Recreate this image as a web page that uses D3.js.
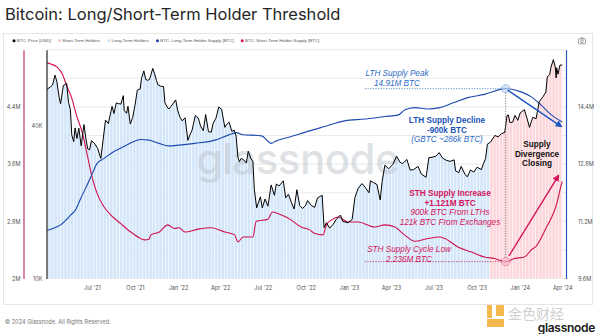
<!DOCTYPE html>
<html><head><meta charset="utf-8">
<script src="https://cdn.jsdelivr.net/npm/d3@7"></script>
<style>
html,body{margin:0;padding:0;background:#fff;}
svg{display:block;font-family:Inter,"Liberation Sans",Arial,sans-serif;}
</style></head>
<body><svg id="c" width="600" height="334"></svg>
<script>
// ---------------- DATA ----------------
const priceDates = ["2021-03-27","2021-04-03","2021-04-08","2021-04-13","2021-04-17","2021-04-22","2021-04-25","2021-05-01","2021-05-08","2021-05-12","2021-05-16","2021-05-19","2021-05-23","2021-05-26","2021-05-30","2021-06-03","2021-06-08","2021-06-14","2021-06-18","2021-06-22","2021-06-26","2021-06-30","2021-07-06","2021-07-13","2021-07-20","2021-07-25","2021-07-30","2021-08-05","2021-08-13","2021-08-17","2021-08-22","2021-08-27","2021-09-01","2021-09-06","2021-09-08","2021-09-13","2021-09-16","2021-09-21","2021-09-26","2021-10-01","2021-10-06","2021-10-12","2021-10-15","2021-10-20","2021-10-24","2021-10-28","2021-11-01","2021-11-08","2021-11-12","2021-11-16","2021-11-19","2021-11-24","2021-11-28","2021-12-01","2021-12-04","2021-12-10","2021-12-13","2021-12-16","2021-12-21","2021-12-27","2021-12-31","2022-01-05","2022-01-10","2022-01-16","2022-01-22","2022-01-26","2022-01-31","2022-02-07","2022-02-10","2022-02-14","2022-02-18","2022-02-24","2022-03-01","2022-03-07","2022-03-13","2022-03-17","2022-03-23","2022-03-29","2022-04-04","2022-04-11","2022-04-15","2022-04-20","2022-04-26","2022-05-01","2022-05-05","2022-05-09","2022-05-12","2022-05-16","2022-05-21","2022-05-27","2022-05-31","2022-06-05","2022-06-10","2022-06-13","2022-06-18","2022-06-22","2022-06-26","2022-06-30","2022-07-06","2022-07-12","2022-07-19","2022-07-26","2022-07-30","2022-08-05","2022-08-14","2022-08-19","2022-08-25","2022-08-31","2022-09-06","2022-09-12","2022-09-18","2022-09-24","2022-09-30","2022-10-05","2022-10-13","2022-10-20","2022-10-26","2022-11-05","2022-11-09","2022-11-14","2022-11-21","2022-11-29","2022-12-05","2022-12-14","2022-12-19","2022-12-30","2023-01-08","2023-01-14","2023-01-21","2023-01-29","2023-02-05","2023-02-13","2023-02-16","2023-02-23","2023-03-02","2023-03-09","2023-03-13","2023-03-19","2023-03-27","2023-04-05","2023-04-13","2023-04-20","2023-04-26","2023-05-05","2023-05-12","2023-05-19","2023-05-29","2023-06-05","2023-06-15","2023-06-21","2023-06-28","2023-07-06","2023-07-13","2023-07-20","2023-07-28","2023-08-05","2023-08-14","2023-08-17","2023-08-24","2023-08-29","2023-09-06","2023-09-11","2023-09-18","2023-09-25","2023-10-02","2023-10-11","2023-10-16","2023-10-20","2023-10-24","2023-10-31","2023-11-09","2023-11-16","2023-11-23","2023-11-30","2023-12-05","2023-12-08","2023-12-11","2023-12-17","2023-12-22","2023-12-28","2024-01-02","2024-01-11","2024-01-17","2024-01-22","2024-01-29","2024-02-05","2024-02-12","2024-02-20","2024-02-26","2024-02-29","2024-03-05","2024-03-08","2024-03-13","2024-03-17","2024-03-19","2024-03-20","2024-03-23","2024-03-27","2024-04-01"];
const priceUSD = [55800,57000,58100,63500,60000,51800,49000,57800,58800,49600,46400,36800,34700,39300,35700,39200,33400,40500,35800,32500,32200,35000,34200,32700,29800,35400,42200,40900,47800,44800,49300,49000,48800,52700,46100,44900,47800,40700,43200,48200,55400,56000,61700,66000,61000,60600,61000,67500,64200,60400,58100,57500,57300,57300,49400,47100,46700,47600,48900,50700,46300,43400,41900,43100,35100,36800,38500,44000,43600,42600,40000,38300,44400,38000,37800,41000,42900,47500,46600,39500,40500,41400,38100,38500,36500,30100,28900,29800,29400,28600,31800,29900,29000,22500,19000,20000,21000,19000,20600,19300,23400,21300,23600,23200,24300,20800,21500,20000,18800,22400,19400,18900,19400,20300,19400,19100,20800,21300,15900,16600,15800,16400,17100,17800,16800,16600,17100,20900,22700,23700,22900,21800,24300,23900,23500,20400,24100,28000,27100,28200,30400,28800,28400,29500,26800,26900,27700,25800,25100,30000,30100,30400,31400,29900,29300,29000,29400,26600,26200,27700,25800,25200,26800,26300,27500,26900,28500,29700,33900,34600,36700,36200,37300,37700,44000,44200,41300,41400,44000,42100,45000,46400,42700,39500,43300,42700,50000,52200,54500,62400,63800,68300,73100,68400,61900,67900,64000,69500,69700];

const lthDates = ["2021-03-27","2021-04-04","2021-04-25","2021-05-17","2021-05-27","2021-06-07","2021-06-21","2021-07-02","2021-07-12","2021-07-27","2021-08-17","2021-09-07","2021-09-29","2021-10-13","2021-10-31","2021-11-21","2021-12-12","2022-01-03","2022-02-06","2022-03-21","2022-04-18","2022-05-06","2022-05-17","2022-06-28","2022-07-20","2022-07-27","2022-08-31","2022-10-09","2022-11-10","2022-12-23","2023-02-04","2023-03-19","2023-04-16","2023-04-30","2023-05-22","2023-06-19","2023-07-14","2023-08-15","2023-09-12","2023-10-18","2023-12-02","2024-01-04","2024-01-26","2024-02-16","2024-03-05","2024-03-19","2024-04-01"];
const lthSupply = [10.94,10.98,11.10,11.38,11.52,11.84,12.22,12.54,12.82,12.96,13.15,13.29,13.43,13.49,13.47,13.38,13.31,13.33,13.38,13.47,13.61,13.68,13.63,13.59,13.38,13.43,13.57,13.73,13.85,14.01,14.06,14.13,14.17,14.31,14.38,14.34,14.38,14.53,14.66,14.75,14.91,14.82,14.68,14.45,14.22,14.08,13.98];

const sthDates = ["2021-03-27","2021-04-04","2021-04-17","2021-04-28","2021-05-09","2021-05-19","2021-05-30","2021-06-10","2021-06-21","2021-07-02","2021-07-12","2021-07-27","2021-08-10","2021-08-31","2021-09-22","2021-10-10","2021-10-21","2021-10-31","2021-11-04","2021-11-22","2021-12-10","2021-12-24","2022-01-03","2022-01-16","2022-02-13","2022-03-13","2022-04-11","2022-05-02","2022-05-09","2022-05-20","2022-06-10","2022-06-17","2022-07-12","2022-07-22","2022-08-09","2022-08-30","2022-09-21","2022-10-09","2022-10-20","2022-11-07","2022-11-14","2022-11-25","2022-12-09","2022-12-30","2023-01-21","2023-02-25","2023-03-19","2023-04-09","2023-04-30","2023-05-22","2023-06-19","2023-07-14","2023-07-25","2023-08-22","2023-09-20","2023-10-18","2023-11-08","2023-12-02","2023-12-21","2024-01-11","2024-01-26","2024-02-05","2024-02-26","2024-03-08","2024-03-19","2024-03-28","2024-04-01"];
const sthSupply = [5.02,5.00,4.96,4.87,4.68,4.52,4.26,4.05,3.73,3.40,3.19,3.00,2.89,2.77,2.65,2.57,2.54,2.55,2.61,2.65,2.75,2.70,2.71,2.65,2.69,2.71,2.65,2.61,2.51,2.58,2.58,2.80,2.83,2.93,2.89,2.82,2.72,2.68,2.63,2.61,2.75,2.82,2.86,2.79,2.79,2.72,2.75,2.72,2.61,2.52,2.56,2.58,2.56,2.44,2.37,2.30,2.28,2.236,2.28,2.30,2.40,2.45,2.70,2.84,3.02,3.26,3.357];

const regimeSplit = "2023-10-28"; // LTH-dominant (blue) before, STH-dominant (pink) after

const xTickDates = ["2021-07-01","2021-10-01","2022-01-01","2022-04-01","2022-07-01","2022-10-01","2023-01-01","2023-04-01","2023-07-01","2023-10-01","2024-01-01","2024-04-01"];
const xTickLabels = ["Jul '21","Oct '21","Jan '22","Apr '22","Jul '22","Oct '22","Jan '23","Apr '23","Jul '23","Oct '23","Jan '24","Apr '24"];
const sthTicks = [2, 2.8, 3.6, 4.4];
const sthTickLabels = ["2M","2.8M","3.6M","4.4M"];
const priceTicks = [10000, 40000];
const priceTickLabels = ["10K","40K"];
const lthTicks = [9.6, 11.2, 12.8, 14.4];
const lthTickLabels = ["9.6M","11.2M","12.8M","14.4M"];
const gridValues = [2,2.4,2.8,3.2,3.6,4.0,4.4,4.8,5.2];

const legendLabels = ["BTC: Price [USD]","Short-Term Holders","Long-Term Holders","BTC: Long-Term Holder Supply [BTC]","BTC: Short-Term Holder Supply [BTC]"];
const legendColors = ["#000000","#f7c6cb","#c9e1f7","#1c3fa8","#d0104c"];

// annotation anchors (values)
const lthPeak = {date:"2023-12-02", value:14.91};
const sthLow  = {date:"2023-12-02", value:2.236};
const lthArrowEnd = {date:"2024-03-30", value:13.85};
const sthArrowStart = {date:"2023-12-05", value:2.29};
const sthArrowEnd = {date:"2024-03-24", value:3.44};

// ---------------- CHART ----------------
const P = d3.timeParse("%Y-%m-%d");
const svg = d3.select("#c");
const L = 47, R = 566, T = 49.7, B = 278.5;

const x = d3.scaleTime().domain([P("2021-03-27"), P("2024-04-09")]).range([L, R]);
const yPrice = d3.scaleLog().domain([10000, 80000]).range([B, T]);
const ySth = d3.scaleLinear().domain([2, 5.2]).range([B, T]);
const yLth = d3.scaleLinear().domain([9.6, 16.0]).range([B, T]);

const price = priceDates.map((d,i)=>({d:P(d), v:priceUSD[i]}));
const lth = lthDates.map((d,i)=>({d:P(d), v:lthSupply[i]}));
const sth = sthDates.map((d,i)=>({d:P(d), v:sthSupply[i]}));

const defs = svg.append("defs");
const wk = x(P("2021-04-10")) - x(P("2021-04-03"));
const pat = defs.append("pattern").attr("id","stripes").attr("patternUnits","userSpaceOnUse")
  .attr("x", L).attr("y",0).attr("width", wk).attr("height", 10);
pat.append("rect").attr("x",0).attr("y",0).attr("width",0.9).attr("height",10).attr("fill","#fff").attr("opacity",0.75);

const split = x(P(regimeSplit));
defs.append("clipPath").attr("id","clipL").append("rect").attr("x",L).attr("y",T).attr("width",split-L).attr("height",B-T);
defs.append("clipPath").attr("id","clipR").append("rect").attr("x",split).attr("y",T).attr("width",R-split).attr("height",B-T);
defs.append("clipPath").attr("id","plot").append("rect").attr("x",L).attr("y",T-5).attr("width",R-L).attr("height",B-T+5);

// outer frame
svg.append("rect").attr("x",3.5).attr("y",33.5).attr("width",589).attr("height",271)
  .attr("fill","none").attr("stroke","#e6e6e6");

// title
svg.append("text").attr("x",5).attr("y",20).attr("font-size",16.5).attr("fill","#262626")
  .text("Bitcoin: Long/Short-Term Holder Threshold");

// legend
let lx = 14;
const lg = svg.append("g").attr("font-size",4.4).attr("fill","#555").attr("font-family","'Liberation Sans',Arial,sans-serif");
legendLabels.forEach((t,i)=>{
  lg.append("circle").attr("cx",lx).attr("cy",40.7).attr("r",1.5).attr("fill",legendColors[i]);
  const tx = lg.append("text").attr("x",lx+2.8).attr("y",42.3).text(t);
  lx += 2.8 + tx.node().getComputedTextLength() + 8.5;
});
// camera icon
const cam = svg.append("g").attr("transform","translate(582,41)").attr("fill","none").attr("stroke","#777").attr("stroke-width",0.7);
cam.append("rect").attr("x",-3.5).attr("y",-2.2).attr("width",7).attr("height",5).attr("rx",0.8);
cam.append("circle").attr("cx",0).attr("cy",0.3).attr("r",1.4);
cam.append("path").attr("d","M-1.5,-2.2 L-1,-3.2 L1,-3.2 L1.5,-2.2");

// gridlines
svg.append("g").selectAll("line").data(gridValues).join("line")
  .attr("x1",L).attr("x2",R).attr("y1",d=>ySth(d)).attr("y2",d=>ySth(d))
  .attr("stroke","#e4e4e4").attr("stroke-width",0.8);

// holder regime fills (area under price)
const area = d3.area().x(d=>x(d.d)).y0(B).y1(d=>yPrice(d.v)).curve(d3.curveLinear);
const fills = svg.append("g");
fills.append("path").datum(price).attr("d",area).attr("fill","#cfe4f9").attr("fill-opacity",0.92).attr("clip-path","url(#clipL)");
fills.append("path").datum(price).attr("d",area).attr("fill","#fcd3d7").attr("fill-opacity",0.92).attr("clip-path","url(#clipR)");
fills.append("path").datum(price).attr("d",area).attr("fill","url(#stripes)");

// watermark
svg.append("text").attr("x",298).attr("y",174).attr("text-anchor","middle")
  .attr("font-size",42).attr("font-weight",500).attr("fill","#b4bbc3").attr("opacity",0.42)
  .attr("letter-spacing",-0.5).text("glassnode");

// lines
const lineP = d3.line().x(d=>x(d.d)).y(d=>yPrice(d.v));
const lineL = d3.line().x(d=>x(d.d)).y(d=>yLth(d.v)).curve(d3.curveMonotoneX);
const lineS = d3.line().x(d=>x(d.d)).y(d=>ySth(d.v)).curve(d3.curveMonotoneX);
const lines = svg.append("g").attr("clip-path","url(#plot)").attr("fill","none");
lines.append("path").datum(sth).attr("d",lineS).attr("stroke","#d0104c").attr("stroke-width",1.1);
lines.append("path").datum(lth).attr("d",lineL).attr("stroke","#1c48b0").attr("stroke-width",1.1);
lines.append("path").datum(price).attr("d",lineP).attr("stroke","#000").attr("stroke-width",1);

// axes
const fmtIdx = (arr, labels) => (d)=>labels[arr.indexOf(d)];
const axS = svg.append("g").attr("transform","translate(23.5,0)")
  .call(d3.axisLeft(ySth).tickValues(sthTicks).tickSize(0).tickPadding(3).tickFormat(fmtIdx(sthTicks,sthTickLabels)));
axS.select(".domain").attr("stroke","#c8386a").attr("stroke-width",1.2);
const axP = svg.append("g").attr("transform","translate(46.5,0)")
  .call(d3.axisLeft(yPrice).tickValues(priceTicks).tickSize(0).tickPadding(4).tickFormat(fmtIdx(priceTicks,priceTickLabels)));
axP.select(".domain").attr("stroke","#222").attr("stroke-width",1.2);
const axL = svg.append("g").attr("transform","translate(566,0)")
  .call(d3.axisRight(yLth).tickValues(lthTicks).tickSize(0).tickPadding(12).tickFormat(fmtIdx(lthTicks,lthTickLabels)));
axL.select(".domain").attr("stroke","#2a55b8").attr("stroke-width",1.2);
const xT = xTickDates.map(P);
const axX = svg.append("g").attr("transform",`translate(0,${B})`)
  .call(d3.axisBottom(x).tickValues(xT).tickSize(0).tickPadding(8)
    .tickFormat(d=>xTickLabels[xT.findIndex(t=>+t===+d)]));
axX.select(".domain").remove();
svg.selectAll(".tick text").attr("font-size",5.6).attr("fill","#555").attr("font-family","Inter,Arial,sans-serif");

// ---------------- ANNOTATIONS ----------------
const ann = svg.append("g").attr("font-family","'Liberation Sans',Arial,sans-serif").attr("font-size",8.2);
const pkX = x(P(lthPeak.date)), pkY = yLth(lthPeak.value);
const lwX = x(P(sthLow.date)), lwY = ySth(sthLow.value);

ann.append("line").attr("x1",pkX).attr("x2",pkX).attr("y1",pkY+4).attr("y2",lwY-4)
  .attr("stroke","#666").attr("stroke-width",0.8).attr("stroke-dasharray","1.2,1.4");
ann.append("line").attr("x1",365).attr("x2",pkX-4).attr("y1",pkY).attr("y2",pkY)
  .attr("stroke","#5a86c9").attr("stroke-width",0.9).attr("stroke-dasharray","1.2,1.4");
ann.append("line").attr("x1",365).attr("x2",lwX-4).attr("y1",lwY).attr("y2",lwY)
  .attr("stroke","#c23a6b").attr("stroke-width",0.9).attr("stroke-dasharray","1.2,1.4");
ann.append("circle").attr("cx",pkX).attr("cy",pkY).attr("r",4.2).attr("fill","#bcd3f2").attr("fill-opacity",0.7)
  .attr("stroke","#5a86c9").attr("stroke-width",0.7).attr("stroke-dasharray","1.2,1");
ann.append("circle").attr("cx",lwX).attr("cy",lwY).attr("r",4.2).attr("fill","#f6b7c8").attr("fill-opacity",0.7)
  .attr("stroke","#d0406f").attr("stroke-width",0.7).attr("stroke-dasharray","1.2,1");

function arrowHead(id, color){
  defs.append("marker").attr("id",id).attr("viewBox","0 0 10 10").attr("refX",8).attr("refY",5)
    .attr("markerWidth",5).attr("markerHeight",5).attr("orient","auto-start-reverse")
    .append("path").attr("d","M0,0 L10,5 L0,10 z").attr("fill",color);
}
arrowHead("ahB","#1a55c4"); arrowHead("ahR","#d4145a");
ann.append("line").attr("x1",pkX+2).attr("y1",pkY+1.5)
  .attr("x2",x(P(lthArrowEnd.date))).attr("y2",yLth(lthArrowEnd.value))
  .attr("stroke","#1a55c4").attr("stroke-width",1.4).attr("marker-end","url(#ahB)");
ann.append("line").attr("x1",x(P(sthArrowStart.date))+2).attr("y1",ySth(sthArrowStart.value)-2)
  .attr("x2",x(P(sthArrowEnd.date))).attr("y2",ySth(sthArrowEnd.value))
  .attr("stroke","#d4145a").attr("stroke-width",1.4).attr("marker-end","url(#ahR)");

function textBlock(cx, y0, lines, dy){
  lines.forEach((l,i)=>{
    ann.append("text").attr("x",cx).attr("y",y0+i*dy).attr("text-anchor","middle")
      .attr("fill",l.c).attr("font-weight",l.b?"bold":"normal").attr("font-style",l.i?"italic":"normal").text(l.t);
  });
}
textBlock(397, 76.3, [{t:"LTH Supply Peak",c:"#2c6bc6",i:1},{t:"14.91M BTC",c:"#2c6bc6",i:1}], 10);
textBlock(447, 123, [{t:"LTH Supply Decline",c:"#1b52b8",b:1},{t:"-900k BTC",c:"#1b52b8",b:1},{t:"(GBTC ~286k BTC)",c:"#2c6bc6",i:1}], 9.6);
textBlock(537, 147, [{t:"Supply",c:"#111",b:1},{t:"Divergence",c:"#111",b:1},{t:"Closing",c:"#111",b:1}], 9.6);
textBlock(450, 196, [{t:"STH Supply Increase",c:"#d4145a",b:1},{t:"+1.121M BTC",c:"#d4145a",b:1},{t:"900k BTC From LTHs",c:"#d4145a",i:1},{t:"121k BTC From Exchanges",c:"#d4145a",i:1}], 9.6);
textBlock(409, 252, [{t:"STH Supply Cycle Low",c:"#d4145a",i:1},{t:"2.236M BTC",c:"#d4145a",i:1}], 9.6);

// ---------------- FOOTER ----------------
svg.append("text").attr("x",5).attr("y",324).attr("font-size",5.6).attr("fill","#777")
  .text("© 2024 Glassnode. All Rights Reserved.");
const wm = svg.append("g");
wm.append("rect").attr("x",487).attr("y",305).attr("width",5).attr("height",13).attr("fill","#f2b13a").attr("opacity",0.9);
wm.append("rect").attr("x",487).attr("y",319).attr("width",17).attr("height",8).attr("fill","#f2b13a").attr("opacity",0.9);
wm.append("rect").attr("x",496).attr("y",305).attr("width",8).attr("height",11).attr("fill","#f2b13a").attr("opacity",0.9);
wm.append("text").attr("x",508).attr("y",318.5).attr("font-size",14).attr("fill","#cfcfcf")
  .attr("font-family","'Noto Sans CJK SC',sans-serif").text("金色财经");
svg.append("text").attr("x",595).attr("y",331.5).attr("text-anchor","end").attr("font-size",12)
  .attr("font-weight",600).attr("fill","#1a1a1a").attr("letter-spacing",-0.3).text("glassnode");
</script></body></html>
